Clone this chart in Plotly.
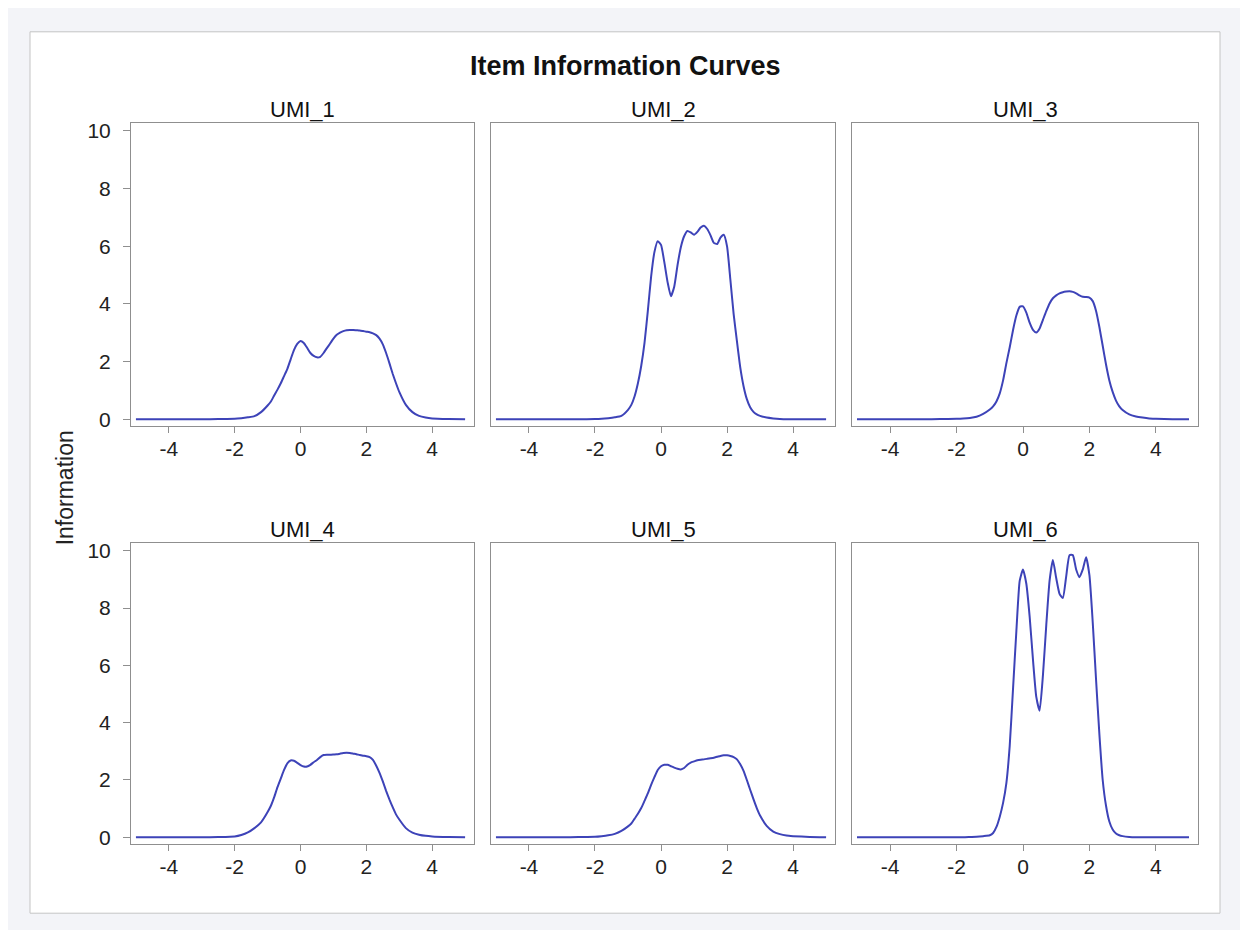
import plotly.graph_objects as go

THETA = [-5.0, -4.5, -4.0, -3.5, -3.0, -2.5, -2.0, -1.8, -1.6, -1.4, -1.2,
         -1.0, -0.9, -0.8, -0.7, -0.6, -0.5, -0.4, -0.3, -0.2, -0.1,
         0.0, 0.1, 0.2, 0.3, 0.4, 0.5, 0.6, 0.7, 0.8, 0.9,
         1.0, 1.1, 1.2, 1.3, 1.4, 1.5, 1.6, 1.7, 1.8, 1.9,
         2.0, 2.1, 2.2, 2.3, 2.4, 2.5, 2.6, 2.7, 2.8, 2.9,
         3.0, 3.2, 3.4, 3.6, 3.8, 4.0, 4.5, 5.0]

UMI_1 = [0, 0, 0, 0, 0, 0.01, 0.02, 0.04, 0.07, 0.11, 0.25,
         0.48, 0.62, 0.83, 1.03, 1.25, 1.5, 1.75, 2.08, 2.4, 2.62,
         2.72, 2.65, 2.48, 2.3, 2.2, 2.15, 2.17, 2.3, 2.47, 2.63,
         2.8, 2.93, 3.01, 3.06, 3.09, 3.1, 3.1, 3.09, 3.08, 3.06,
         3.04, 3.02, 2.98, 2.92, 2.8, 2.6, 2.3, 1.95, 1.58, 1.25,
         0.95, 0.5, 0.25, 0.12, 0.06, 0.03, 0.01, 0.0]

UMI_2 = [0, 0, 0, 0, 0, 0, 0.01, 0.02, 0.04, 0.07, 0.12,
         0.33, 0.5, 0.8, 1.25, 1.85, 2.65, 3.75, 4.95, 5.8, 6.18,
         6.05, 5.45, 4.75, 4.27, 4.6, 5.35, 5.97, 6.35, 6.53, 6.48,
         6.4, 6.5, 6.65, 6.71, 6.6, 6.38, 6.12, 6.08, 6.3, 6.4,
         6.0, 4.85, 3.65, 2.7, 1.8, 1.15, 0.7, 0.42, 0.26, 0.17,
         0.12, 0.06, 0.03, 0.01, 0.0, 0.0, 0.0, 0.0]

UMI_3 = [0, 0, 0, 0, 0, 0.01, 0.02, 0.03, 0.05, 0.09, 0.19,
         0.34, 0.45, 0.62, 0.9, 1.35, 1.95, 2.5, 3.1, 3.6, 3.9,
         3.92, 3.7, 3.35, 3.1, 3.01, 3.15, 3.45, 3.75, 4.02, 4.2,
         4.3, 4.37, 4.41, 4.43, 4.44, 4.42, 4.37, 4.3, 4.25, 4.24,
         4.22, 4.1, 3.76, 3.2, 2.55, 1.9, 1.35, 0.95, 0.65, 0.45,
         0.32, 0.17, 0.1, 0.06, 0.03, 0.02, 0.0, 0.0]

UMI_4 = [0, 0, 0, 0, 0, 0.01, 0.03, 0.08, 0.17, 0.32, 0.52,
         0.88, 1.1, 1.4, 1.75, 2.05, 2.35, 2.58, 2.68, 2.67, 2.6,
         2.52, 2.47, 2.47, 2.53, 2.62, 2.7, 2.8, 2.87, 2.88, 2.88,
         2.89, 2.9, 2.92, 2.94, 2.95, 2.94, 2.92, 2.9, 2.87, 2.85,
         2.83, 2.8, 2.7, 2.5, 2.25, 1.95, 1.62, 1.32, 1.05, 0.8,
         0.62, 0.32, 0.16, 0.09, 0.05, 0.03, 0.01, 0.0]

UMI_5 = [0, 0, 0, 0, 0, 0.01, 0.02, 0.04, 0.07, 0.12, 0.22,
         0.38, 0.48, 0.65, 0.82, 1.02, 1.27, 1.53, 1.83, 2.1, 2.35,
         2.48, 2.53, 2.53, 2.48, 2.43, 2.39, 2.37, 2.42, 2.53, 2.61,
         2.65, 2.69, 2.71, 2.72, 2.74, 2.76, 2.78, 2.81, 2.84, 2.86,
         2.86, 2.84, 2.8, 2.72, 2.55, 2.32, 2.0, 1.66, 1.33, 1.02,
         0.76, 0.4, 0.2, 0.11, 0.06, 0.04, 0.01, 0.0]

UMI_6 = [0, 0, 0, 0, 0, 0, 0, 0, 0.01, 0.02, 0.04,
         0.07, 0.15, 0.36, 0.72, 1.2, 1.9, 3.2, 5.2, 7.2, 8.95,
         9.35, 8.85, 7.7, 6.2, 4.9, 4.42, 5.65, 7.4, 8.95, 9.68,
         9.05, 8.5, 8.35, 9.1, 9.85, 9.85, 9.35, 9.08, 9.35, 9.78,
         9.15, 7.5, 5.5, 3.6, 2.0, 1.1, 0.55, 0.27, 0.13, 0.07,
         0.04, 0.01, 0.0, 0.0, 0.0, 0.0, 0.0, 0.0]

ITEM_NAMES = ["UMI_1", "UMI_2", "UMI_3", "UMI_4", "UMI_5", "UMI_6"]
SERIES = [UMI_1, UMI_2, UMI_3, UMI_4, UMI_5, UMI_6]
X_TICKS = [-4, -2, 0, 2, 4]
X_TICK_TEXT = ["-4", "-2", "0", "2", "4"]
Y_TICKS = [0, 2, 4, 6, 8, 10]

W, H = 1248, 930
OFF = 8  # page body margin offset
COL_PX = [(131, 474), (491, 835), (852, 1198)]
ROW_PX = [(120, 426), (544, 848)]


def px_x(p):
    return (p - OFF) / W


def px_y(p):
    return 1 - (p - OFF) / H


FONT = "Liberation Sans, Arial, sans-serif"
LINE_COLOR = "#3d43b8"
FRAME = "#8f8f8f"
TXT = "#222222"

fig = go.Figure()
layout = dict(
    width=W, height=H,
    margin=dict(l=0, r=0, t=0, b=0),
    paper_bgcolor="#f3f4f8",
    plot_bgcolor="white",
    showlegend=False,
    font=dict(family=FONT, size=21, color=TXT),
)

annotations = []
for i, (name, vals) in enumerate(zip(ITEM_NAMES, SERIES)):
    r, c = divmod(i, 3)
    n = i + 1
    xs = "x" if n == 1 else f"x{n}"
    ys = "y" if n == 1 else f"y{n}"
    fig.add_trace(go.Scatter(x=THETA, y=vals, mode="lines", xaxis=xs, yaxis=ys,
                             line=dict(color=LINE_COLOR, width=2, shape="spline", smoothing=0.5),
                             name=name))
    x0, x1 = COL_PX[c]
    y0, y1 = ROW_PX[r]
    xd = [px_x(x0), px_x(x1)]
    yd = [px_y(y1), px_y(y0)]
    xkey = "xaxis" if n == 1 else f"xaxis{n}"
    ykey = "yaxis" if n == 1 else f"yaxis{n}"
    layout[xkey] = dict(domain=xd, anchor=ys, range=[-5.15, 5.27],
                        tickvals=X_TICKS, ticktext=X_TICK_TEXT,
                        ticks="outside", ticklen=6, tickcolor=FRAME,
                        ticklabelstandoff=-2,
                        showline=True, linecolor=FRAME, linewidth=1, mirror=True,
                        showgrid=False, zeroline=False,
                        tickfont=dict(size=21, color=TXT, family=FONT))
    layout[ykey] = dict(domain=yd, anchor=xs, range=[-0.23, 10.28],
                        tickvals=Y_TICKS, ticks="outside" if c == 0 else "", ticklen=7,
                        tickcolor=FRAME, showticklabels=(c == 0),
                        ticklabelstandoff=8,
                        showline=True, linecolor=FRAME, linewidth=1, mirror=True,
                        showgrid=False, zeroline=False,
                        tickfont=dict(size=21, color=TXT, family=FONT))
    annotations.append(dict(text=name, x=px_x((x0 + x1) / 2), y=px_y(y0 + 1),
                            xref="paper", yref="paper", showarrow=False,
                            xanchor="center", yanchor="bottom",
                            font=dict(size=22, color="#111111", family=FONT)))

annotations.append(dict(text="<b>Item Information Curves</b>", x=px_x(625), y=px_y(63),
                        xref="paper", yref="paper", showarrow=False,
                        xanchor="center", yanchor="middle",
                        font=dict(size=27, color="#111111", family=FONT)))
annotations.append(dict(text="Information", x=px_x(65), y=px_y(489),
                        xref="paper", yref="paper", showarrow=False, textangle=-90,
                        xanchor="center", yanchor="middle",
                        font=dict(size=23, color=TXT, family=FONT)))

layout["annotations"] = annotations
layout["shapes"] = [dict(type="rect", xref="paper", yref="paper",
                         x0=px_x(30), x1=px_x(1220), y0=px_y(918), y1=px_y(28),
                         fillcolor="white", line=dict(color="#c4c4c4", width=1),
                         layer="below")]
fig.update_layout(**layout)
fig.write_html("out.html")
